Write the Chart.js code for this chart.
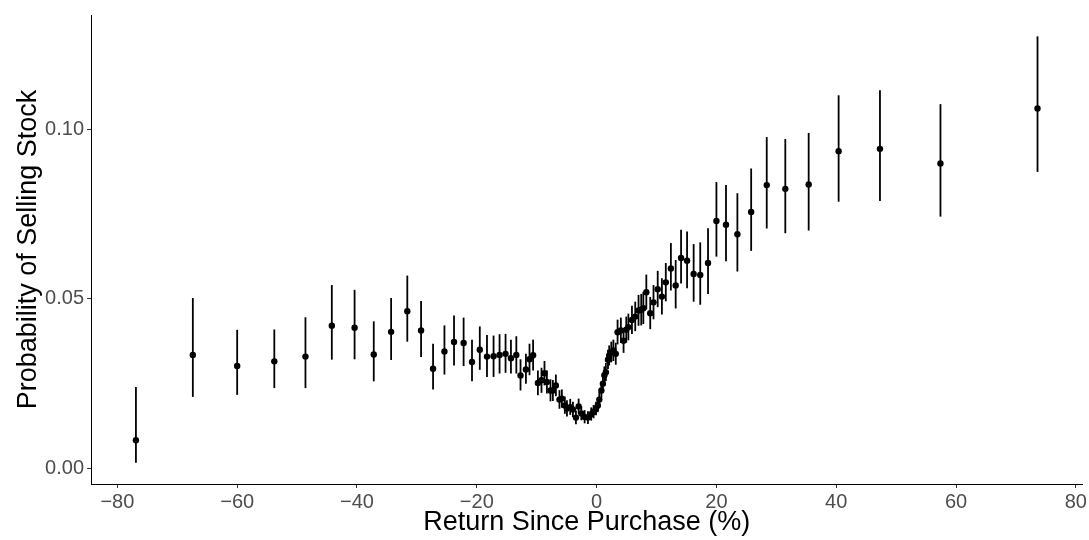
<!DOCTYPE html>
<html lang="en">
<head>
<meta charset="utf-8">
<title>Probability of Selling Stock</title>
<script src="https://cdn.jsdelivr.net/npm/chart.js@4/dist/chart.umd.min.js"></script>
<style>
  html, body { margin: 0; padding: 0; background: #ffffff; }
  #campo { width: 1089px; height: 540px; position: relative; }
</style>
</head>
<body>
<div id="campo"><canvas id="grafico"></canvas></div>
<script>
/* =========================================================
   DADOS
========================================================= */

// retorno desde a compra (%)
const retornos = [
  -76.9, -67.4, -60.0, -53.8, -48.6, -44.2, -40.4, -37.2, -34.3, -31.6,
  -29.3, -27.3, -25.4, -23.8, -22.2, -20.8, -19.5, -18.3, -17.2, -16.2,
  -15.2, -14.3, -13.4, -12.7, -11.8, -11.2, -10.6, -9.8, -9.2, -8.7,
  -8.3, -7.7, -7.3, -6.8, -6.2, -5.8, -5.3, -4.95, -4.4, -3.95,
  -3.45, -3.0, -2.55, -2.0, -1.45, -0.9, -0.5, -0.1, 0.2, 0.45,
  0.8, 1.05, 1.3, 1.55, 1.9, 2.1, 2.45, 2.8, 3.2, 3.5,
  4.05, 4.5, 4.95, 5.3, 5.9, 6.45, 7.0, 7.45, 7.8, 8.3,
  8.95, 9.5, 10.2, 10.9, 11.55, 12.4, 13.2, 14.1, 15.1, 16.2,
  17.3, 18.6, 20.0, 21.6, 23.5, 25.8, 28.4, 31.5, 35.4, 40.4,
  47.3, 57.4, 73.6
];

// probabilidade estimada de venda
const probabilidades = [
  0.0082, 0.0334, 0.0301, 0.0315, 0.0329, 0.0420, 0.0414, 0.0335, 0.0402, 0.0463,
  0.0406, 0.0293, 0.0344, 0.0372, 0.0369, 0.0313, 0.0349, 0.0329, 0.0330, 0.0334,
  0.0337, 0.0324, 0.0334, 0.0273, 0.0291, 0.0321, 0.0333, 0.0251, 0.0259, 0.0280,
  0.0254, 0.0229, 0.0229, 0.0244, 0.0202, 0.0205, 0.0185, 0.0176, 0.0180, 0.0173,
  0.0149, 0.0182, 0.0161, 0.0151, 0.0149, 0.0159, 0.0166, 0.0176, 0.0185, 0.0202,
  0.0229, 0.0249, 0.0274, 0.0283, 0.0320, 0.0332, 0.0342, 0.0347, 0.0337, 0.0401,
  0.0406, 0.0376, 0.0408, 0.0416, 0.0437, 0.0447, 0.0465, 0.0467, 0.0472, 0.0519,
  0.0457, 0.0489, 0.0528, 0.0506, 0.0548, 0.0589, 0.0539, 0.0620, 0.0612, 0.0573,
  0.0570, 0.0605, 0.0729, 0.0718, 0.0690, 0.0756, 0.0835, 0.0824, 0.0837, 0.0935,
  0.0942, 0.0899, 0.1061
];

// limite inferior do intervalo
const limiteInferior = [
  0.0016, 0.0210, 0.0216, 0.0236, 0.0236, 0.0320, 0.0321, 0.0256, 0.0319, 0.0373,
  0.0328, 0.0232, 0.0276, 0.0303, 0.0301, 0.0256, 0.0290, 0.0269, 0.0269, 0.0279,
  0.0281, 0.0279, 0.0279, 0.0229, 0.0249, 0.0274, 0.0288, 0.0215, 0.0222, 0.0244,
  0.0220, 0.0197, 0.0198, 0.0212, 0.0175, 0.0178, 0.0160, 0.0152, 0.0157, 0.0151,
  0.0129, 0.0160, 0.0141, 0.0132, 0.0130, 0.0140, 0.0147, 0.0156, 0.0165, 0.0181,
  0.0207, 0.0225, 0.0249, 0.0257, 0.0292, 0.0303, 0.0312, 0.0316, 0.0305, 0.0365,
  0.0369, 0.0340, 0.0370, 0.0377, 0.0396, 0.0404, 0.0420, 0.0421, 0.0425, 0.0468,
  0.0410, 0.0439, 0.0475, 0.0453, 0.0492, 0.0524, 0.0471, 0.0545, 0.0531, 0.0491,
  0.0482, 0.0514, 0.0624, 0.0610, 0.0580, 0.0641, 0.0707, 0.0693, 0.0701, 0.0786,
  0.0788, 0.0742, 0.0874
];

// limite superior do intervalo
const limiteSuperior = [
  0.0239, 0.0502, 0.0408, 0.0409, 0.0445, 0.0540, 0.0526, 0.0433, 0.0502, 0.0568,
  0.0493, 0.0367, 0.0421, 0.0450, 0.0444, 0.0379, 0.0418, 0.0393, 0.0391, 0.0395,
  0.0396, 0.0379, 0.0389, 0.0321, 0.0337, 0.0367, 0.0379, 0.0288, 0.0296, 0.0316,
  0.0288, 0.0262, 0.0260, 0.0276, 0.0230, 0.0232, 0.0211, 0.0200, 0.0204, 0.0196,
  0.0170, 0.0205, 0.0182, 0.0171, 0.0168, 0.0179, 0.0186, 0.0196, 0.0206, 0.0224,
  0.0252, 0.0273, 0.0300, 0.0310, 0.0349, 0.0362, 0.0373, 0.0379, 0.0370, 0.0438,
  0.0444, 0.0413, 0.0447, 0.0456, 0.0479, 0.0491, 0.0511, 0.0514, 0.0520, 0.0571,
  0.0505, 0.0540, 0.0582, 0.0560, 0.0605, 0.0664, 0.0614, 0.0703, 0.0698, 0.0661,
  0.0666, 0.0708, 0.0844, 0.0835, 0.0811, 0.0884, 0.0977, 0.0971, 0.0989, 0.1100,
  0.1115, 0.1074, 0.1274
];

// marcas dos eixos
const ticksX = [-80, -60, -40, -20, 0, 20, 40, 60, 80];
const ticksY = [0, 0.05, 0.10];


/* =========================================================
   BARRAS DE ERRO (plugin)
========================================================= */

const barrasErro = {
  id: 'barrasErro',
  beforeDatasetsDraw(chart) {
    const { ctx, scales: { x, y } } = chart;
    ctx.save();
    ctx.strokeStyle = '#000000';
    ctx.lineWidth = 1.8;
    retornos.forEach((r, i) => {
      const px = x.getPixelForValue(r);
      ctx.beginPath();
      ctx.moveTo(px, y.getPixelForValue(limiteInferior[i]));
      ctx.lineTo(px, y.getPixelForValue(limiteSuperior[i]));
      ctx.stroke();
    });
    ctx.restore();
  }
};


/* =========================================================
   GRÁFICO
========================================================= */

const fonte = "'Liberation Sans', Arial, Helvetica, sans-serif";
const menos = v => (v < 0 ? '\u2212' + Math.abs(v) : String(v));

new Chart(document.getElementById('grafico'), {
  type: 'scatter',
  data: {
    datasets: [{
      data: retornos.map((r, i) => ({ x: r, y: probabilidades[i] })),
      backgroundColor: '#000000',
      borderWidth: 0,
      pointRadius: 3.2,
      pointHoverRadius: 3.2
    }]
  },
  plugins: [barrasErro],
  options: {
    responsive: true,
    maintainAspectRatio: false,
    animation: false,
    layout: { padding: { top: 15, right: 4, left: 0, bottom: 0 } },
    plugins: {
      legend: { display: false },
      tooltip: { enabled: false }
    },
    scales: {
      x: {
        type: 'linear',
        min: -84.4,
        max: 81.1,
        afterBuildTicks: scale => { scale.ticks = ticksX.map(v => ({ value: v })); },
        afterFit: scale => { scale.height = 56; },
        ticks: {
          autoSkip: false,
          maxRotation: 0,
          color: '#4D4D4D',
          padding: 2,
          font: { family: fonte, size: 20 },
          callback: v => menos(v)
        },
        grid: {
          display: true,
          drawOnChartArea: false,
          drawTicks: true,
          tickLength: 4,
          color: '#333333'
        },
        border: { display: true, color: '#000000', width: 1 },
        title: {
          display: true,
          text: 'Return Since Purchase (%)',
          color: '#000000',
          font: { family: fonte, size: 27 },
          padding: { top: 0, bottom: 1 }
        }
      },
      y: {
        min: -0.0047,
        max: 0.1337,
        afterBuildTicks: scale => { scale.ticks = ticksY.map(v => ({ value: v })); },
        afterFit: scale => { scale.width = 91; },
        ticks: {
          color: '#4D4D4D',
          padding: 3,
          font: { family: fonte, size: 20 },
          callback: v => v.toFixed(2)
        },
        grid: {
          display: true,
          drawOnChartArea: false,
          drawTicks: true,
          tickLength: 4,
          color: '#333333'
        },
        border: { display: true, color: '#000000', width: 1 },
        title: {
          display: true,
          text: 'Probability of Selling Stock',
          color: '#000000',
          font: { family: fonte, size: 27 },
          padding: { top: 12, bottom: 0 }
        }
      }
    }
  }
});
</script>
</body>
</html>
